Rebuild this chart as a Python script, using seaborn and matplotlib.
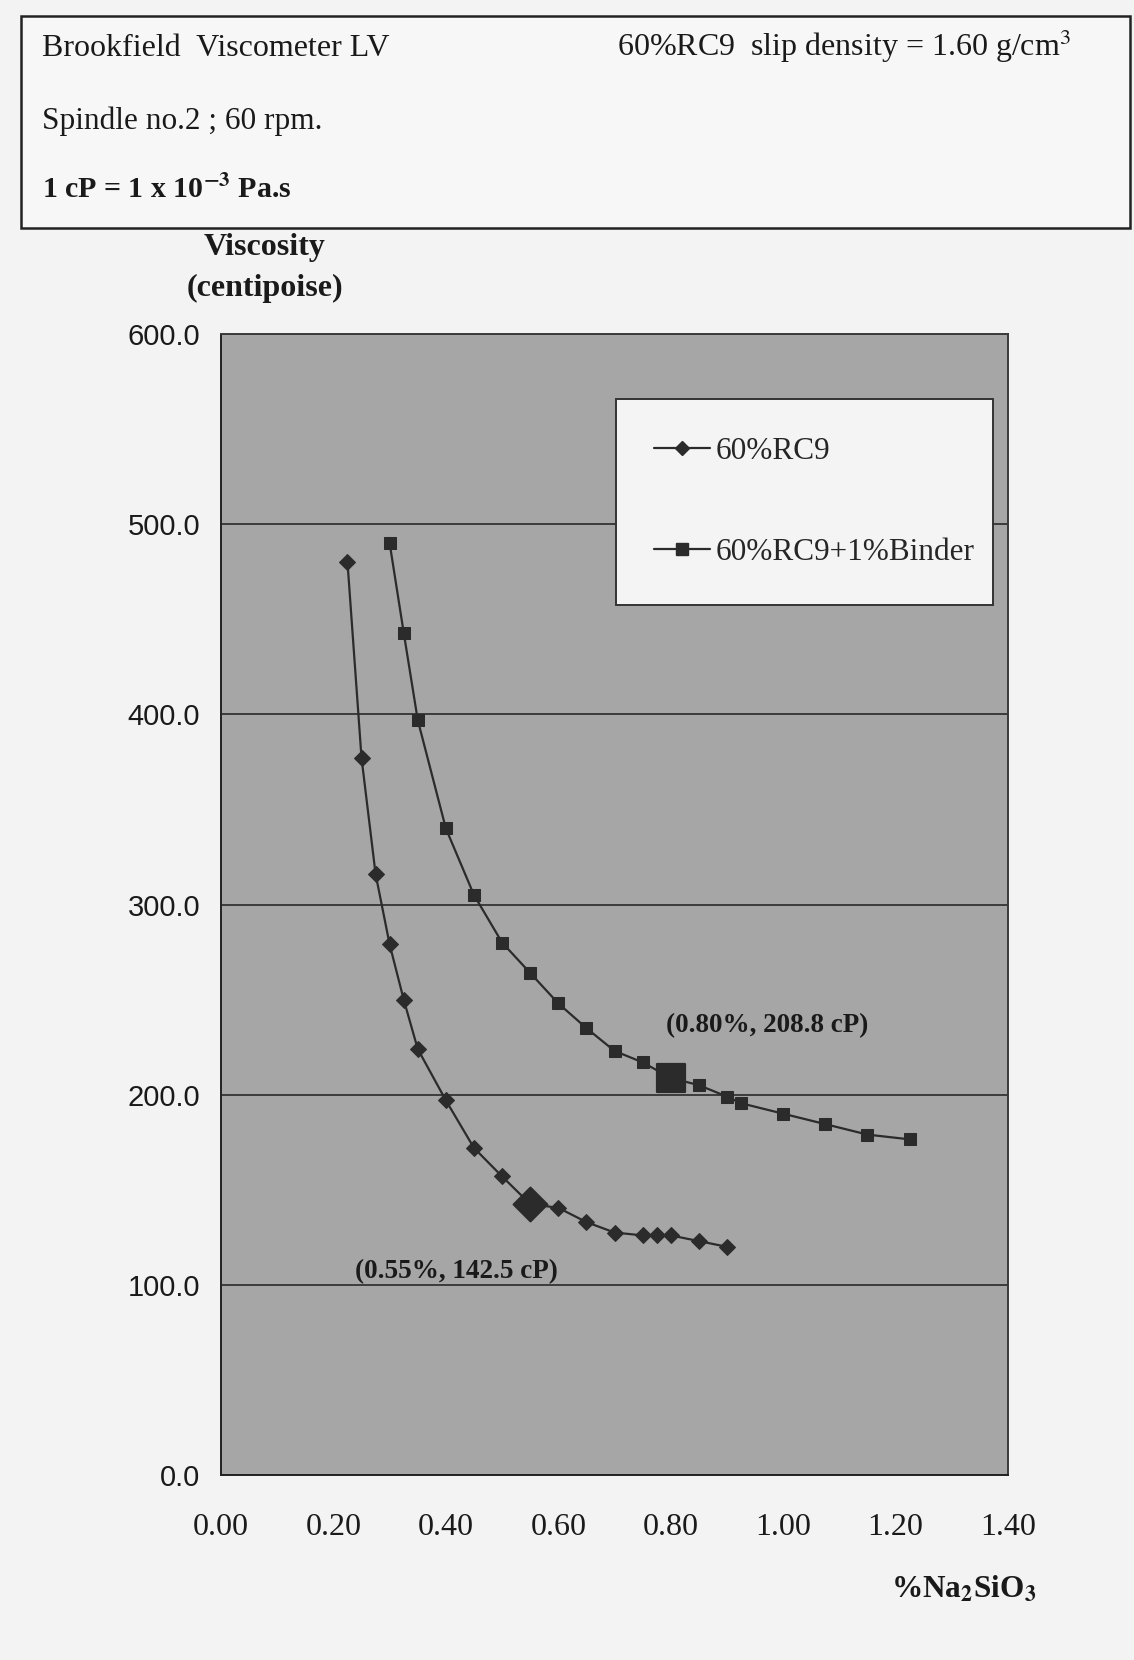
import matplotlib
matplotlib.use("Agg")
import matplotlib.pyplot as plt
from matplotlib.patches import Rectangle
from matplotlib.lines import Line2D
import seaborn as sns
import pandas as pd

# ---- data ----
x_rc9 = [0.225, 0.25, 0.275, 0.30, 0.325, 0.35, 0.40, 0.45, 0.50, 0.55,
         0.60, 0.65, 0.70, 0.75, 0.775, 0.80, 0.85, 0.90]
y_rc9 = [480, 377, 316, 279, 250, 224, 197, 172, 157, 142.5,
         140.5, 133, 127.5, 126, 126, 126, 123, 120]
x_bind = [0.30, 0.325, 0.35, 0.40, 0.45, 0.50, 0.55, 0.60, 0.65, 0.70,
          0.75, 0.80, 0.85, 0.90, 0.925, 1.00, 1.075, 1.15, 1.225]
y_bind = [490, 443, 397, 340, 305, 280, 264, 248, 235, 223,
          217, 208.8, 205, 199, 195.5, 190, 184.5, 179, 176.5]
series_names = ["60%RC9", "60%RC9+1%Binder"]
highlight_x = [0.55, 0.80]
highlight_y = [142.5, 208.8]
highlight_labels = ["(0.55%, 142.5 cP)", "(0.80%, 208.8 cP)"]
x_ticks = [0.00, 0.20, 0.40, 0.60, 0.80, 1.00, 1.20, 1.40]
y_ticks = [0, 100, 200, 300, 400, 500, 600]

df = pd.concat([
    pd.DataFrame({"x": x_rc9, "y": y_rc9, "series": series_names[0]}),
    pd.DataFrame({"x": x_bind, "y": y_bind, "series": series_names[1]}),
], ignore_index=True)

sns.set_style("white")
plt.rcParams["font.family"] = ["Liberation Serif", "DejaVu Serif"]
plt.rcParams["mathtext.fontset"] = "stix"

fig = plt.figure(figsize=(11.34, 16.6), dpi=100)
fig.patch.set_facecolor("#f3f3f3")

# header box
fig.patches.append(Rectangle((21 / 1134, 1 - 228 / 1660), (1130 - 21) / 1134, (228 - 16) / 1660,
                             transform=fig.transFigure, facecolor="#f7f7f7",
                             edgecolor="#222222", linewidth=1.8))
fig.text(42 / 1134, 1 - 48 / 1660, "Brookfield  Viscometer LV", fontsize=23,
         va="center", ha="left", color="#1a1a1a")
fig.text(617 / 1134, 1 - 46 / 1660, "60%RC9  slip density = 1.60 g/cm$^{3}$", fontsize=23,
         va="center", ha="left", color="#1a1a1a")
fig.text(42 / 1134, 1 - 121 / 1660, "Spindle no.2 ; 60 rpm.", fontsize=22.5,
         va="center", ha="left", color="#1a1a1a")
fig.text(42 / 1134, 1 - 190 / 1660, r"1 cP = 1 x 10$^{\mathbf{-3}}$ Pa.s", fontsize=21.5,
         fontweight="bold", va="center", ha="left", color="#1a1a1a")

ax = fig.add_axes([221 / 1134, 185 / 1660, (1008 - 221) / 1134, (1475 - 334) / 1660])
ax.set_facecolor("#a6a6a6")

sns.lineplot(data=df, x="x", y="y", hue="series", style="series",
             markers={series_names[0]: "D", series_names[1]: "s"},
             palette={series_names[0]: "#2b2b2b", series_names[1]: "#2b2b2b"},
             dashes=False, sort=False, markersize=8, linewidth=1.6,
             markeredgecolor="#2b2b2b", legend=False, ax=ax, zorder=3)

sns.scatterplot(x=[highlight_x[0]], y=[highlight_y[0]], marker="D", s=300,
                color="#2b2b2b", edgecolor="#2b2b2b", ax=ax, zorder=4, legend=False)
sns.scatterplot(x=[highlight_x[1]], y=[highlight_y[1]], marker="s", s=400,
                color="#2b2b2b", edgecolor="#2b2b2b", ax=ax, zorder=4, legend=False)

ax.text(0.238, 107, highlight_labels[0], fontsize=19.5, fontweight="bold",
        va="center", ha="left", color="#1a1a1a")
ax.text(0.792, 236.5, highlight_labels[1], fontsize=19.5, fontweight="bold",
        va="center", ha="left", color="#1a1a1a")

ax.set_xlim(0, 1.4)
ax.set_ylim(0, 600)
ax.set_xticks(x_ticks)
ax.set_xticklabels([f"{v:.2f}" for v in x_ticks], fontsize=23, color="#1a1a1a")
ax.set_yticks(y_ticks)
ax.set_yticklabels([f"{v:.1f}" for v in y_ticks], fontsize=21, color="#1a1a1a",
                   family=["Liberation Sans", "DejaVu Sans"])
ax.tick_params(axis="both", direction="out", length=7, width=1.2, color="#222222")
ax.tick_params(axis="x", pad=20)
ax.tick_params(axis="y", pad=8)
ax.grid(axis="y", color="#333333", linewidth=1.3)
ax.grid(axis="x", visible=False)
ax.set_axisbelow(True)
for sp in ax.spines.values():
    sp.set_color("#3a3a3a")
    sp.set_linewidth(1.4)
ax.spines["left"].set_color("#222222")
ax.spines["bottom"].set_color("#222222")
ax.set_xlabel("")
ax.set_ylabel("")

handles = [Line2D([], [], color="#2b2b2b", marker="D", markersize=7, linewidth=1.6),
           Line2D([], [], color="#2b2b2b", marker="s", markersize=8, linewidth=1.6)]
leg_x0 = (616 - 221) / (1008 - 221)
leg_top = 1 - (399 - 334) / (1475 - 334)
leg_w = (993 - 616) / (1008 - 221)
leg = ax.legend(handles, series_names, loc="upper left", mode="expand",
                bbox_to_anchor=(leg_x0, leg_top, leg_w, 0),
                fontsize=22.5, frameon=True, fancybox=False, framealpha=1,
                edgecolor="#333333", facecolor="#f4f4f4", borderpad=1.2,
                labelspacing=2.32, handlelength=1.8, handletextpad=0.2, borderaxespad=0)
leg.get_frame().set_linewidth(1.4)

fig.text(265 / 1134, 1 - 247 / 1660, "Viscosity", fontsize=23, fontweight="bold",
         ha="center", va="center", color="#1a1a1a")
fig.text(265 / 1134, 1 - 288 / 1660, "(centipoise)", fontsize=23, fontweight="bold",
         ha="center", va="center", color="#1a1a1a")
fig.text(1036 / 1134, 1 - 1590 / 1660, r"%Na$_{\mathbf{2}}$SiO$_{\mathbf{3}}$", fontsize=22.5,
         fontweight="bold", ha="right", va="center", color="#1a1a1a")

fig.savefig("out.png", dpi=100, facecolor=fig.get_facecolor())
